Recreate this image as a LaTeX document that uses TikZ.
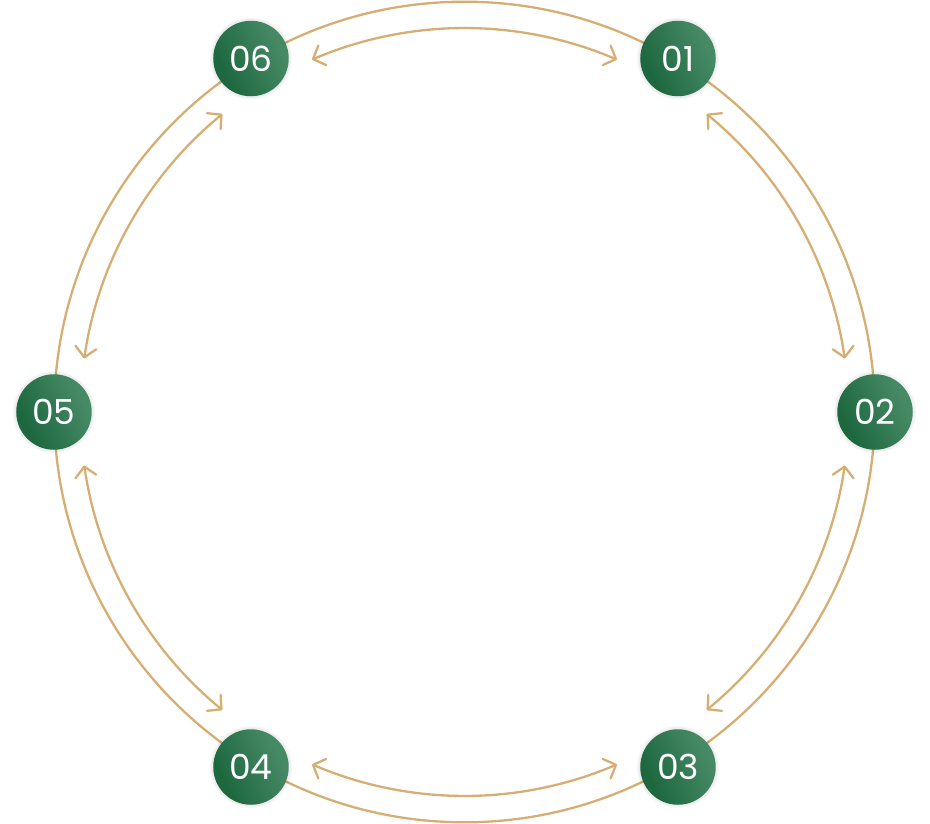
\documentclass[tikz,border=0pt]{standalone}
\usepackage{fontspec}
\setmainfont{Poppins}
\usetikzlibrary{arrows.meta,bending}
\definecolor{gold}{HTML}{D6AE74}
\pgfdeclarehorizontalshading{ballshade}{100bp}{rgb(0bp)=(0.118,0.408,0.251); rgb(30bp)=(0.118,0.408,0.251); rgb(70bp)=(0.275,0.541,0.396); rgb(100bp)=(0.275,0.541,0.396)}
\tikzset{
  ball/.style={circle, minimum size=75.5pt, inner sep=0pt, draw=none,
    shading=ballshade, shading angle=25,
    text=white, font=\fontsize{34.5}{34.5}\selectfont},
  halo/.style={fill=black, opacity=0.035},
  ring/.style={draw=gold, line width=2.3pt},
  dbl/.style={draw=gold, line width=2.3pt, {Straight Barb[length=10pt,width=21pt,round,bend]}-{Straight Barb[length=10pt,width=21pt,round,bend]}}
}
\begin{document}
\begin{tikzpicture}[x=1pt,y=1pt]
\useasboundingbox (-464.5,-411) rectangle (465.5,412);
\coordinate (c) at (0,0);
\draw[ring] (c) circle[radius=410.3];
% arrow start points
\def\R{384}
\coordinate (s61) at (113.4:\R);
\coordinate (s12) at (50.9:\R);
\coordinate (s23) at (-8:\R);
\coordinate (s34) at (-66.6:\R);
\coordinate (s45) at (-129.1:\R);
\coordinate (s56) at (172:\R);
\draw[dbl] (s61) arc[start angle=113.4, end angle=66.6, radius=\R];
\draw[dbl] (s12) arc[start angle=50.9, end angle=8, radius=\R];
\draw[dbl] (s23) arc[start angle=-8, end angle=-50.9, radius=\R];
\draw[dbl] (s34) arc[start angle=-66.6, end angle=-113.4, radius=\R];
\draw[dbl] (s45) arc[start angle=-129.1, end angle=-172, radius=\R];
\draw[dbl] (s56) arc[start angle=172, end angle=129.1, radius=\R];
% halos
\foreach \p in {(213.5,353.5),(410.5,0),(213.5,-355),(-213.5,-355),(-410.5,0),(-213.5,353.5)}{
  \fill[halo] \p circle[radius=41];
  \fill[halo] \p circle[radius=39.5];}
\node[ball] (n01) at (213.5,353.5) {01};
\node[ball] (n02) at (410.5,0) {02};
\node[ball] (n03) at (213.5,-355) {03};
\node[ball] (n04) at (-213.5,-355) {04};
\node[ball] (n05) at (-410.5,0) {05};
\node[ball] (n06) at (-213.5,353.5) {06};
\end{tikzpicture}
\end{document}
